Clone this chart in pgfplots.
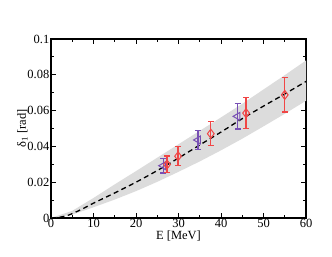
\documentclass[border=0pt]{standalone}
\usepackage{pgfplots}
\pgfplotsset{compat=1.18}
\usepackage{fontspec}
\setmainfont{Liberation Serif}
\definecolor{myred}{RGB}{240,70,70}
\definecolor{mypurple}{RGB}{120,80,180}
\definecolor{bandgray}{RGB}{220,220,220}
\begin{document}
\begin{tikzpicture}[x=1bp,y=1bp]
\useasboundingbox (0,0) rectangle (332,257);
\begin{axis}[
  at={(51bp,39bp)}, anchor=south west,
  width=255bp, height=179bp, scale only axis,
  xmin=0, xmax=60, ymin=0, ymax=0.1,
  xtick={0,10,20,30,40,50,60},
  ytick={0,0.02,0.04,0.06,0.08,0.1},
  yticklabels={0,0.02,0.04,0.06,0.08,0.1},
  minor x tick num=1, minor y tick num=1,
  tick align=inside,
  major tick length=5bp, minor tick length=3bp,
  axis line style={line width=1.1bp},
  every tick/.style={black, line width=0.9bp},
  /pgf/number format/assume math mode=true,
  ticklabel style={font=\fontsize{12.5bp}{14bp}\selectfont},
  xticklabel style={inner sep=0.5bp},
  yticklabel style={inner sep=1.5bp},
  label style={font=\fontsize{12.5bp}{14bp}\selectfont},
  xlabel={E [MeV]},
  ylabel={δ\textsubscript{1} [rad]},
  xlabel style={inner sep=0pt, yshift=-3bp},
  ylabel style={inner sep=0pt, yshift=-2bp},
  clip=true,
]
\addplot[draw=none, fill=bandgray] coordinates {
 (0,0) (5,0.0040) (10,0.0112) (15,0.0188) (20,0.0262) (25,0.0337) (30,0.0412)
 (35,0.0487) (40,0.0562) (45,0.0638) (50,0.0718) (55,0.0798) (60,0.0880)
 (60,0.0655) (55,0.0582) (50,0.0512) (45,0.0443) (40,0.0378) (35,0.0316)
 (30,0.0258) (25,0.0202) (20,0.0150) (15,0.0103) (10,0.0060) (5,0.0019) (0,0)
} \closedcycle;
\addplot[black, line width=1.3bp, dash pattern=on 5bp off 3.5bp, smooth] coordinates {
 (0,0) (2,0.0004) (4,0.0015) (6,0.0035) (8,0.0058) (10,0.0083) (15,0.0140)
 (20,0.0200) (25,0.0265) (30,0.0335) (35,0.0408) (40,0.0480) (45,0.0555)
 (50,0.0625) (55,0.0693) (60,0.0763)
};
\addplot[mypurple, line width=1bp, only marks, mark=triangle,
  mark size=4.5bp, mark options={rotate=90, fill=none, line width=1bp},
  error bars/.cd, y dir=both, y explicit,
  error bar style={line width=1.2bp},
  error mark options={rotate=90, mypurple, line width=1.2bp, mark size=3bp}]
  coordinates {
  (26.4,0.0292) +- (0,0.0041)
  (34.6,0.0436) +- (0,0.0055)
  (43.9,0.0568) +- (0,0.0071)
};
\addplot[myred, line width=1bp, only marks, mark=diamond,
  mark size=4.5bp, mark options={fill=none, line width=1bp},
  error bars/.cd, y dir=both, y explicit,
  error bar style={line width=1.2bp},
  error mark options={rotate=90, myred, line width=1.2bp, mark size=3bp}]
  coordinates {
  (27.3,0.0299) +- (0,0.0047)
  (29.9,0.0345) +- (0,0.0053)
  (37.6,0.0471) +- (0,0.0068)
  (45.9,0.0586) +- (0,0.0085)
  (55.0,0.0688) +- (0,0.0096)
};
\end{axis}
\end{tikzpicture}
\end{document}
